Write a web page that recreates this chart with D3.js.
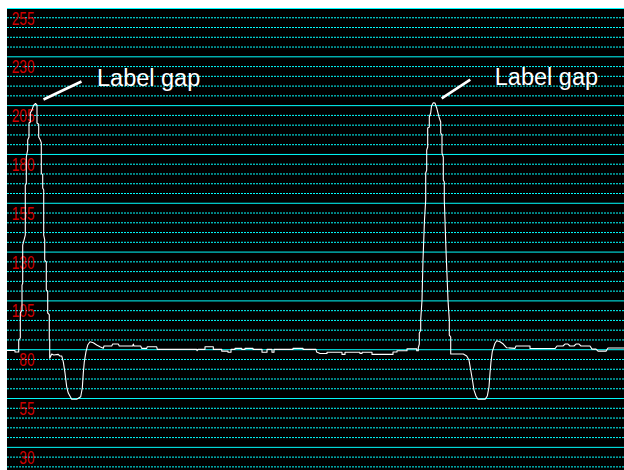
<!DOCTYPE html>
<html>
<head>
<meta charset="utf-8">
<script src="https://cdn.jsdelivr.net/npm/d3@7"></script>
<style>
  html, body { margin: 0; padding: 0; background: #ffffff; }
  svg { display: block; }
</style>
</head>
<body>
<svg id="chart" width="624" height="470"></svg>
<script>
// Scope trace: sample index and signal level (8-bit code values)
const sampleIdx = [
  0, 8, 8, 11.7, 11.7, 13.3, 13.3, 15, 15, 15.7, 15.7, 18.3, 18.3, 19.3, 19.3, 20.7, 20.7, 22, 22,
  23.3, 23.3, 25, 26.7, 28.5, 30, 30, 31.7, 31.7, 33.3, 34.3, 34.3, 35.7, 35.7, 36.7, 36.7, 37.7, 37.7,
  39.3, 39.3, 40.7, 40.7, 42.3, 42.3, 42.7, 42.7, 44.7, 46.7, 51.3, 52.7, 54.7, 56.3, 58, 59.7, 61.3,
  64.7, 69.7, 73.7, 75.3, 76.3, 77.3, 79, 80.7, 83, 86.3, 89.7, 93, 96.3, 97, 104.7, 105.7, 111.3, 112.3,
  125.7, 126.3, 127, 133.7, 134.7, 139.7, 140.3, 149.7, 150.3, 189.7, 190, 191, 198, 198, 206.3, 206.3,
  214.7, 214.7, 221, 221, 224, 224, 228, 228, 234.7, 234.7, 238, 238, 246, 246, 255, 255, 260, 260,
  265, 265, 267, 267, 286, 286, 296, 296, 309, 309.7, 313, 320, 320, 335, 335, 338, 338, 353, 353,
  355, 355, 365, 365, 386, 386, 390, 390, 400, 400, 409.7, 409.7, 411.3, 411.3, 412.3, 412.3, 413.7,
  413.7, 415, 416, 417.5, 418.7, 418.7, 419.7, 419.7, 420.7, 420.7, 422.3, 422.3, 423.7, 424.5, 426.3,
  428, 429.7, 431, 432, 433.7, 433.7, 435, 435, 436.3, 436.3, 437.3, 437.3, 439, 441, 442.3, 442.3,
  443.7, 443.7, 456.3, 459.7, 462, 463.7, 465.7, 467, 469, 471, 478, 480.3, 482, 483, 484, 485.3, 488,
  489.7, 493, 496.3, 499.7, 508, 509, 523, 523, 548, 550, 556, 558, 561, 563, 567, 569, 572, 574, 583,
  585, 589, 591, 599, 601, 617
];
const level = [
  79.6, 79.6, 78.8, 78.8, 85.0, 86.0, 98.8, 100.3, 113.1, 114.0, 133.6, 138.7, 164.3, 165.0, 178.7, 182.3, 187.4, 188.9, 196.1,
  196.6, 201.2, 202.8, 205.3, 206.1, 205.3, 196.1, 195.5, 188.9, 187.4, 185.9, 170.5, 169.5, 162.8, 161.8, 138.7, 136.2, 125.9,
  124.9, 110.6, 110.0, 98.8, 98.0, 85.0, 84.8, 75.6, 77.8, 77.3, 77.6, 76.8, 76.8, 73.8, 68.1, 61.0, 57.8,
  54.6, 54.6, 55.9, 60.4, 68.1, 73.8, 79.0, 82.4, 84.1, 83.6, 82.4, 81.5, 80.7, 81.9, 81.9, 82.9, 82.9, 81.9,
  81.9, 82.9, 81.9, 81.9, 80.7, 80.7, 81.5, 81.5, 80.2, 80.2, 79.5, 80.2, 80.2, 81.5, 81.5, 80.2,
  80.2, 79.3, 79.3, 78.7, 78.7, 80.2, 80.2, 80.7, 80.7, 80.2, 80.2, 80.7, 80.7, 80.2, 80.2, 78.7, 78.7, 80.2,
  80.2, 78.7, 78.7, 80.2, 80.2, 80.7, 80.7, 80.2, 80.2, 78.8, 78.1, 78.1, 78.7, 78.7, 77.6, 77.6, 78.7, 78.7, 78.1,
  78.1, 78.7, 78.7, 77.6, 77.6, 78.8, 78.8, 79.5, 79.5, 80.5, 80.5, 79.5, 79.5, 81.0, 82.9, 88.5, 90.0,
  95.2, 105.4, 125.9, 146.4, 156.7, 170.5, 172.0, 182.3, 183.8, 193.5, 194.0, 199.2, 201.2, 204.8, 206.5,
  206.3, 203.8, 201.2, 199.2, 196.6, 191.0, 190.0, 180.7, 178.7, 166.9, 165.9, 156.7, 131.0, 105.4, 95.2, 87.5,
  86.5, 77.8, 77.8, 76.8, 74.7, 69.6, 63.6, 59.3, 56.3, 54.6, 54.6, 56.3, 61.0, 68.1, 73.8, 79.0, 83.3,
  84.6, 84.1, 82.9, 81.0, 80.7, 81.9, 81.9, 80.6, 80.6, 81.9, 81.9, 82.9, 82.9, 81.9, 81.9, 82.9, 82.9, 81.9, 81.9,
  80.3, 80.3, 79.3, 79.3, 80.9, 80.9
];

// Level labels on the major gridlines
const tickLabels = [255, 230, 205, 180, 155, 130, 105, 80, 55, 30];
const minorStep = 5;

// Callouts on the two pulse peaks
const calloutSamples = [28.5, 426.3];
const calloutTexts = ["Label gap", "Label gap"];

// ---------- layout ----------
const W = 624, H = 470;
const plot = { left: 7, top: 8, right: 624, bottom: 470 };
const sampleMax = 617;
const levelTop = 255, levelBottom = 18.4;

const svg = d3.select("#chart");

const x = d3.scaleLinear().domain([0, sampleMax]).range([plot.left, plot.right]);
const y = d3.scaleLinear().domain([levelTop, levelBottom]).range([plot.top, plot.bottom]);

// plot background
svg.append("rect")
  .attr("x", plot.left).attr("y", plot.top)
  .attr("width", plot.right - plot.left).attr("height", plot.bottom - plot.top)
  .attr("fill", "#000000");

// gridlines: solid at labelled levels, dotted every 5 codes
const gridLevels = d3.range(20, levelTop + 0.1, minorStep);
const grid = svg.append("g").attr("class", "grid");
grid.selectAll("line")
  .data(gridLevels)
  .join("line")
  .attr("x1", plot.left).attr("x2", plot.right)
  .attr("y1", d => y(d)).attr("y2", d => y(d))
  .attr("stroke", "#00ffff")
  .attr("stroke-width", 1)
  .attr("stroke-dasharray", d => tickLabels.includes(d) ? null : "2,1");

// level labels (narrow red digits hanging under each major line)
const labels = svg.append("g").attr("class", "labels");
labels.selectAll("text")
  .data(tickLabels)
  .join("text")
  .attr("transform", d => `translate(34.5,${y(d) + 16.6}) scale(0.76,1)`)
  .attr("text-anchor", "end")
  .attr("font-family", "'Liberation Sans', Arial, sans-serif")
  .attr("font-size", 18)
  .attr("fill", "#d00000")
  .text(d => d);

// signal trace
const points = sampleIdx.map((s, i) => [s, level[i]]);
const line = d3.line().x(d => x(d[0])).y(d => y(d[1]));
svg.append("path")
  .datum(points)
  .attr("d", line)
  .attr("fill", "none")
  .attr("stroke", "#ffffff")
  .attr("stroke-width", 1.1)
  .attr("stroke-linejoin", "round");

// callouts: leader line from just right of each peak, text beyond it
const callout = svg.append("g").attr("class", "callouts");
const leader = [[8, -4, 46, -22], [8.4, -4.4, 37, -23]];
calloutSamples.forEach((s, i) => {
  const k = sampleIdx.indexOf(s);
  const px = x(s), py = y(level[k]);
  const L = leader[i];
  callout.append("line")
    .attr("x1", px + L[0]).attr("y1", py + L[1])
    .attr("x2", px + L[2]).attr("y2", py + L[3])
    .attr("stroke", "#ffffff").attr("stroke-width", 2.6);
  callout.append("text")
    .attr("x", px + 61.5).attr("y", py - 17.5)
    .attr("font-family", "'Liberation Sans', Arial, sans-serif")
    .attr("font-size", 23.5)
    .attr("fill", "#ffffff")
    .text(calloutTexts[i]);
});

// white frame margin on the top and left
svg.append("rect").attr("x", 0).attr("y", 0).attr("width", W).attr("height", plot.top).attr("fill", "#ffffff");
svg.append("rect").attr("x", 0).attr("y", 0).attr("width", plot.left).attr("height", H).attr("fill", "#ffffff");
svg.append("line")
  .attr("x1", plot.left).attr("x2", plot.right)
  .attr("y1", plot.top + 0.5).attr("y2", plot.top + 0.5)
  .attr("stroke", "#00ffff").attr("stroke-width", 1);
</script>
</body>
</html>
